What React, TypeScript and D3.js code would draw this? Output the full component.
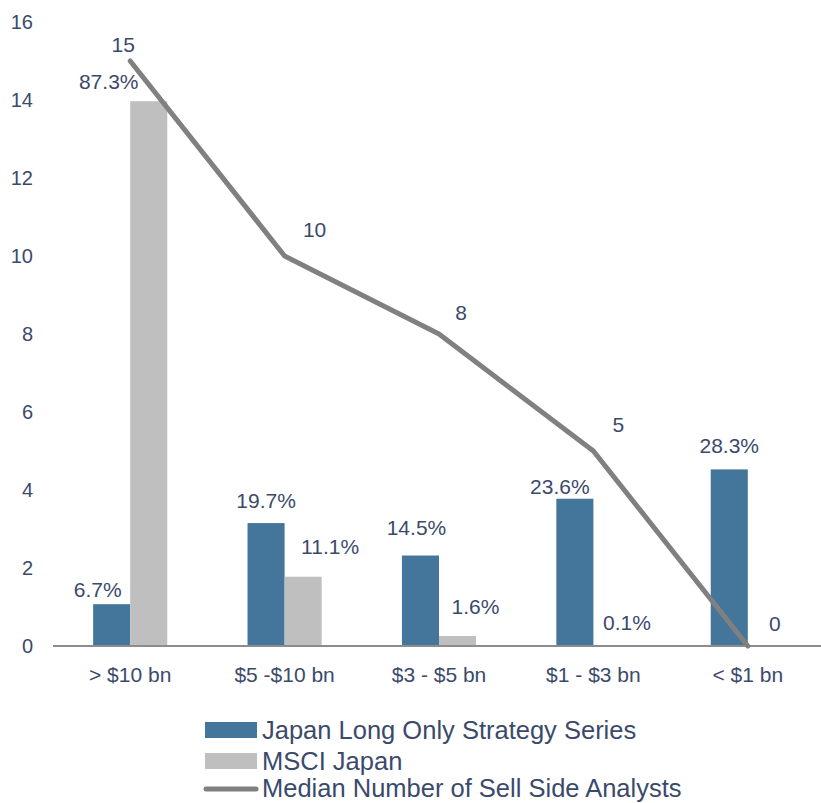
import React from "react";
import * as d3 from "d3";

const categories = ["> $10 bn", "$5 -$10 bn", "$3 - $5 bn", "$1 - $3 bn", "< $1 bn"];
const japanLongOnly = [6.7, 19.7, 14.5, 23.6, 28.3];
const msciJapan = [87.3, 11.1, 1.6, 0.1, 0];
const medianAnalysts = [15, 10, 8, 5, 0];
const yTicks = [0, 2, 4, 6, 8, 10, 12, 14, 16];
const legendLabels = ["Japan Long Only Strategy Series", "MSCI Japan", "Median Number of Sell Side Analysts"];

// label offsets (dx, dy) relative to mark anchor, and which labels to show
const japanLabelOffsets: [number, number][] = [[-14, -15], [0, -23], [-4, -28], [-15, -12], [0, -24]];
const msciLabelOffsets: [number, number][] = [[-40, -20], [27, -30], [18, -30], [15, -23], [0, 0]];
const msciLabelShown = [true, true, true, true, false];
const lineLabelOffsets: [number, number][] = [[-7, -17], [30, -27], [22, -22], [25, -27], [27, -23]];

const W = 821;
const H = 803;
const TEXT = "#3B4A6B";
const BLUE = "#44759A";
const GREY = "#BFBFBF";
const LINE = "#808080";
const FONT = "'Liberation Sans', Arial, Helvetica, sans-serif";

export default function App() {
  const x = d3.scaleBand<string>().domain(categories).range([53, 825]);
  const step = x.step();
  const barW = step * 0.24;
  const y = d3.scaleLinear().domain([0, 16]).range([646, 22]);
  const yPct = d3.scaleLinear().domain([0, 100]).range([646, 22]);
  const cx = (c: string) => (x(c) as number) + step / 2;

  const line = d3
    .line<number>()
    .x((_, i) => cx(categories[i]))
    .y((d) => y(d));

  return (
    <svg
      width={W}
      height={H}
      style={{ position: "absolute", left: 0, top: 0, background: "#fff" }}
      fontFamily={FONT}
    >
      {/* y tick labels */}
      {yTicks.map((t) => (
        <text key={t} x={33} y={y(t)} textAnchor="end" dominantBaseline="central" fontSize={20} fill={TEXT}>
          {t}
        </text>
      ))}

      {/* bars */}
      {categories.map((c, i) => (
        <g key={c}>
          <rect
            x={cx(c) - barW}
            y={yPct(japanLongOnly[i])}
            width={barW}
            height={646 - yPct(japanLongOnly[i])}
            fill={BLUE}
          />
          {msciJapan[i] > 0 && (
            <rect
              x={cx(c)}
              y={yPct(msciJapan[i])}
              width={barW}
              height={646 - yPct(msciJapan[i])}
              fill={GREY}
            />
          )}
        </g>
      ))}

      {/* axis line */}
      <line x1={53} x2={821} y1={646} y2={646} stroke="#8C8C8C" strokeWidth={2} />

      {/* line series */}
      <path d={line(medianAnalysts) || ""} fill="none" stroke={LINE} strokeWidth={5} strokeLinecap="round" strokeLinejoin="round" />

      {/* data labels */}
      {categories.map((c, i) => (
        <g key={"lab" + c} fontSize={21} fill={TEXT}>
          <text
            x={cx(c) - barW / 2 + japanLabelOffsets[i][0]}
            y={yPct(japanLongOnly[i]) + japanLabelOffsets[i][1]}
            textAnchor="middle"
            dominantBaseline="central"
          >
            {japanLongOnly[i].toFixed(1)}%
          </text>
          {msciLabelShown[i] && (
            <text
              x={cx(c) + barW / 2 + msciLabelOffsets[i][0]}
              y={yPct(msciJapan[i]) + msciLabelOffsets[i][1]}
              textAnchor="middle"
              dominantBaseline="central"
            >
              {msciJapan[i].toFixed(1)}%
            </text>
          )}
          <text
            x={cx(c) + lineLabelOffsets[i][0]}
            y={y(medianAnalysts[i]) + lineLabelOffsets[i][1]}
            textAnchor="middle"
            dominantBaseline="central"
          >
            {medianAnalysts[i]}
          </text>
        </g>
      ))}

      {/* category labels */}
      {categories.map((c) => (
        <text key={"cat" + c} x={cx(c)} y={674} textAnchor="middle" dominantBaseline="central" fontSize={21} fill={TEXT}>
          {c}
        </text>
      ))}

      {/* legend */}
      <g fontSize={25.5} fill={TEXT}>
        <rect x={205} y={722} width={52} height={16} fill={BLUE} />
        <text x={262} y={730} dominantBaseline="central">{legendLabels[0]}</text>
        <rect x={205} y={753} width={52} height={16} fill={GREY} />
        <text x={262} y={761} dominantBaseline="central">{legendLabels[1]}</text>
        <line x1={206} x2={256} y1={789} y2={789} stroke={LINE} strokeWidth={5} strokeLinecap="round" />
        <text x={262} y={788} dominantBaseline="central">{legendLabels[2]}</text>
      </g>
    </svg>
  );
}
